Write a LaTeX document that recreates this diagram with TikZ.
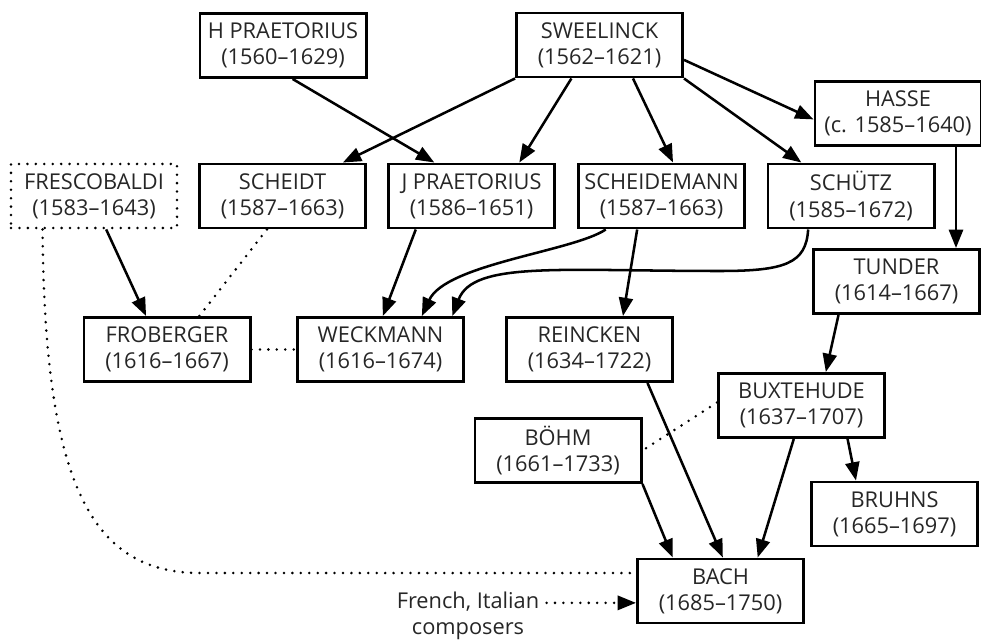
\documentclass[tikz,border=0pt]{standalone}
\usepackage{fontspec}
\setmainfont{Open Sans}
\usetikzlibrary{arrows.meta}

\begin{document}
\begin{tikzpicture}[x=0.025cm, y=-0.025cm,
  box/.style={draw, line width=2.1pt, minimum width=4.15cm, minimum height=1.6cm, inner sep=1pt, align=center, text=black!85, font=\fontsize{15.5}{18.5}\selectfont},
  link/.style={line width=1.8pt, -{Triangle[length=13pt,width=10pt]}},
  dots/.style={line width=2pt, line cap=round, dash pattern=on 0pt off 6pt}]
\useasboundingbox (0,0) rectangle (981,642);
\node [box] (hpraet) at (283,45.5) {H PRAETORIUS\\(1560–1629)};
\node [box] (sweelinck) at (599.5,45) {SWEELINCK\\(1562–1621)};
\node [box] (hasse) at (898,113.5) {HASSE\\(c. 1585–1640)};
\node [box, dots, draw] (fresco) at (94,196) {FRESCOBALDI\\(1583–1643)};
\node [box] (scheidt) at (282.5,196) {SCHEIDT\\(1587–1663)};
\node [box] (jpraet) at (471.5,196) {J PRAETORIUS\\(1586–1651)};
\node [box] (scheidemann) at (661.5,196) {SCHEIDEMANN\\(1587–1663)};
\node [box] (schutz) at (851,196) {SCHÜTZ\\(1585–1672)};
\node [box] (tunder) at (896.5,281.5) {TUNDER\\(1614–1667)};
\node [box] (froberger) at (167,349.5) {FROBERGER\\(1616–1667)};
\node [box] (weckmann) at (380.5,349.5) {WECKMANN\\(1616–1674)};
\node [box] (reincken) at (589.5,349.5) {REINCKEN\\(1634–1722)};
\node [box] (buxtehude) at (801.5,405.5) {BUXTEHUDE\\(1637–1707)};
\node [box] (bohm) at (558,450.5) {BÖHM\\(1661–1733)};
\node [box] (bruhns) at (894.5,514) {BRUHNS\\(1665–1697)};
\node [box] (bach) at (720.5,591) {BACH\\(1685–1750)};
\node [align=center, inner sep=1pt, text=black!85, font=\fontsize{15.5}{18.5}\selectfont] (french) at (468,616) {French, Italian\\composers};

\draw [link] (hpraet.-74) -- (jpraet.138);
\draw [link] (sweelinck.south west) -- (scheidt.29);
\draw [link] (sweelinck.-130) -- (jpraet.35);
\draw [link] (sweelinck.-45) -- (scheidemann.71);
\draw [link] (sweelinck.south east) -- (schutz.146);
\draw [link] (sweelinck.-10) -- (hasse.184);
\draw [link] (hasse.-30) -- (hasse.-30 |- tunder.north);
\draw [link] (fresco.-70) -- (froberger.122);
\draw [dots] (scheidt.-115) -- (froberger.46);
\draw [dots] (froberger) -- (weckmann);
\draw [link] (jpraet.-149) -- (weckmann.86);
\draw [link] (scheidemann.-149) .. controls +(-33,22) and +(24,-52) .. (weckmann.39);
\draw [link] (schutz.-142) .. controls +(-2,34) and +(65,0) .. (720,271)
  .. controls +(-160,0) and +(21,-55) .. (weckmann.25);
\draw [link] (scheidemann.-126) -- (reincken.45);
\draw [link] (reincken.-30) -- (bach.86);
\draw [link] (tunder.-150) -- (buxtehude.54);
\draw [dots] (buxtehude.178) -- (bohm.east);
\draw [link] (bohm.south east) -- (bach.145);
\draw [link] (buxtehude.-103) -- (bach.42);
\draw [link] (buxtehude.-36) -- (bruhns.139);
\draw [dots] (fresco.-147) .. controls +(2,252) and +(-110,0) .. (200,573) -- (bach.168);
\draw [dots, -{Triangle[length=13pt,width=10pt]}, shorten <=4pt] (french.east |- bach.188) -- (bach.188);
\end{tikzpicture}
\end{document}
